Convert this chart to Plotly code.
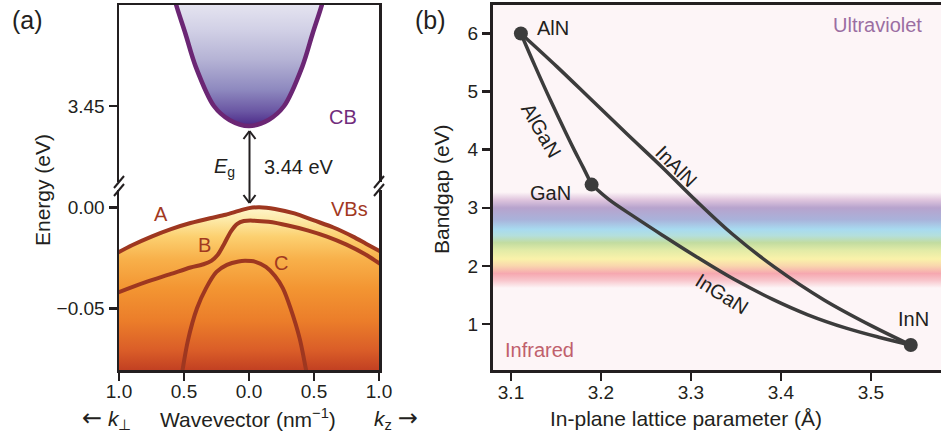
import plotly.graph_objects as go

W, H = 941, 438
def px(x): return x / W
def py(y): return 1 - y / H

FONT = "Liberation Sans, Arial, Helvetica, sans-serif"
INK = "#231f20"
BROWN = "#9e3720"
PURPLE = "#6b2674"

# ---------------- Panel (a) data ----------------
cb_k = [-0.60, -0.56, -0.49, -0.41, -0.27, -0.15, 0.0, 0.15, 0.27, 0.41, 0.49, 0.56, 0.60]
cb_E = [3.510, 3.500, 3.486, 3.4695, 3.450, 3.4431, 3.4401, 3.4431, 3.450, 3.4695, 3.486, 3.500, 3.510]

vbA_k = [-1.02, -0.9, -0.75, -0.6, -0.45, -0.3, -0.18, -0.08, 0.0, 0.08, 0.2, 0.35, 0.5, 0.65, 0.8, 0.9, 1.02]
vbA_E = [-0.0228, -0.0188, -0.0145, -0.0108, -0.0078, -0.0054, -0.0037, -0.0018, -0.0004, 0.0, -0.0008,
         -0.0030, -0.0065, -0.0100, -0.0145, -0.0180, -0.0222]

vbB_k = [-1.02, -0.8, -0.6, -0.45, -0.35, -0.29, -0.24, -0.19, -0.14, -0.09, -0.04, 0.03, 0.15, 0.3,
         0.45, 0.6, 0.75, 0.9, 1.02]
vbB_E = [-0.0425, -0.0372, -0.0330, -0.0298, -0.0282, -0.0265, -0.0235, -0.0180, -0.0120, -0.0082,
         -0.0068, -0.0066, -0.0072, -0.0090, -0.0114, -0.0145, -0.0185, -0.0235, -0.0285]

vbC_k = [-0.53, -0.47, -0.40, -0.33, -0.25, -0.17, -0.08, -0.03, 0.05, 0.13, 0.2, 0.26, 0.32, 0.39, 0.46]
vbC_E = [-0.088, -0.066, -0.050, -0.040, -0.032, -0.0285, -0.0268, -0.0265, -0.0270, -0.0295, -0.034,
         -0.040, -0.050, -0.065, -0.088]

k_ticks = [-1.0, -0.5, 0.0, 0.5, 1.0]
k_ticktext = ["1.0", "0.5", "0.0", "0.5", "1.0"]
e_top_ticks = [3.45]
e_top_text = ["3.45"]
e_bot_ticks = [0.0, -0.05]
e_bot_text = ["0.00", "\u22120.05"]
gap_label = "3.44 eV"

# ---------------- Panel (b) data ----------------
bin_names = ["AlN", "GaN", "InN"]
bin_a = [3.111, 3.1896, 3.5444]
bin_E = [6.0, 3.40, 0.64]

algan_a = [3.111, 3.1270, 3.1439, 3.1616, 3.1708, 3.1801, 3.1896]
algan_E = [6.0, 5.43, 4.85, 4.27, 3.98, 3.70, 3.40]

inaln_a = [3.111, 3.151, 3.190, 3.229, 3.268, 3.306, 3.346, 3.393, 3.448, 3.502, 3.5444]
inaln_E = [6.0, 5.43, 4.85, 4.27, 3.70, 3.12, 2.55, 1.98, 1.415, 0.96, 0.64]

ingan_a = [3.1896, 3.209, 3.2376, 3.2683, 3.307, 3.348, 3.391, 3.43, 3.4726, 3.51, 3.5444]
ingan_E = [3.40, 3.14, 2.84, 2.53, 2.15, 1.77, 1.425, 1.16, 0.93, 0.77, 0.64]

a_ticks = [3.1, 3.2, 3.3, 3.4, 3.5]
a_ticktext = ["3.1", "3.2", "3.3", "3.4", "3.5"]
eg_ticks = [1, 2, 3, 4, 5, 6]

spec_E = [0.21, 1.62, 1.75, 1.87, 2.00, 2.12, 2.27, 2.40, 2.52, 2.63, 2.80, 3.00, 3.14, 3.27, 6.49]
spec_colors = ["#fdf5f7", "#fdf5f7", "#f8c6cc", "#f6a8b0", "#f9d6ad", "#faf2aa", "#e2eba7", "#c2dca0",
               "#b4dfdc", "#a8dbf0", "#a9b2da", "#b7a3cd", "#e0c6de", "#fdf5f7", "#fdf5f7"]

# axis ranges / domains
XA_DOM = [px(119), px(379)]
YA_TOP_DOM = [py(182), py(5)]
YA_BOT_DOM = [py(370), py(190)]
XB_DOM = [px(493), 1.0]
YB_DOM = [py(370), py(5)]
E_TOP_RANGE = [3.41238, 3.50]
E_BOT_RANGE = [-0.08054, 0.00856]
A_RANGE = [3.08, 3.578]
EG_RANGE = [0.21, 6.49]

fig = go.Figure()

# VB filled region (gradient)
fig.add_trace(go.Scatter(
    x=vbA_k + [1.02, -1.02], y=vbA_E + [-0.1, -0.1], xaxis="x", yaxis="y",
    mode="lines", line=dict(width=0), fill="toself",
    fillgradient=dict(type="vertical", start=E_BOT_RANGE[0], stop=0.0,
                      colorscale=[[0.0, "#c24022"], [0.12, "#da5d28"], [0.3, "#eb7d2a"],
                                  [0.5, "#f39532"], [0.68, "#f8b04a"], [0.82, "#fcd070"],
                                  [0.92, "#fde9a6"], [1.0, "#fff6cc"]]),
    hoverinfo="skip", showlegend=False))

for kk, ee in [(vbC_k, vbC_E), (vbB_k, vbB_E), (vbA_k, vbA_E)]:
    fig.add_trace(go.Scatter(x=kk, y=ee, xaxis="x", yaxis="y", mode="lines",
                             line=dict(color=BROWN, width=4, shape="spline", smoothing=0.8),
                             hoverinfo="skip", showlegend=False))

# CB
fig.add_trace(go.Scatter(
    x=cb_k, y=cb_E, xaxis="x2", yaxis="y2", mode="lines",
    line=dict(color=PURPLE, width=4.5, shape="spline", smoothing=0.9), fill="toself",
    fillgradient=dict(type="vertical", start=3.4401, stop=3.50,
                      colorscale=[[0.0, "#4b2887"], [0.12, "#6a56a3"], [0.3, "#8e89bf"],
                                  [0.55, "#b5b3d5"], [0.8, "#d2d1e6"], [1.0, "#e4e3f0"]]),
    hoverinfo="skip", showlegend=False))

# Panel (b) background spectrum
lo, hi = spec_E[0], spec_E[-1]
fig.add_trace(go.Scatter(
    x=[3.0, 3.7, 3.7, 3.0], y=[lo, lo, hi, hi], xaxis="x3", yaxis="y3", mode="lines",
    line=dict(width=0), fill="toself",
    fillgradient=dict(type="vertical", start=lo, stop=hi,
                      colorscale=[[(e - lo) / (hi - lo), c] for e, c in zip(spec_E, spec_colors)]),
    hoverinfo="skip", showlegend=False))

LINE_B = "#3c3c3c"
for aa, ee in [(inaln_a, inaln_E), (ingan_a, ingan_E), (algan_a, algan_E)]:
    fig.add_trace(go.Scatter(x=aa, y=ee, xaxis="x3", yaxis="y3", mode="lines",
                             line=dict(color=LINE_B, width=3.5, shape="spline", smoothing=1.0),
                             hoverinfo="skip", showlegend=False))
fig.add_trace(go.Scatter(x=bin_a, y=bin_E, xaxis="x3", yaxis="y3", mode="markers",
                         marker=dict(color=LINE_B, size=14), hoverinfo="skip", showlegend=False))

tickfont = dict(family=FONT, size=19, color=INK)
common = dict(showgrid=False, zeroline=False, showline=True, linecolor=INK, tickcolor=INK,
              ticks="outside", tickfont=tickfont, automargin=False)

fig.update_layout(
    width=W, height=H, margin=dict(l=0, r=0, t=0, b=0, autoexpand=False),
    paper_bgcolor="white", plot_bgcolor="white", showlegend=False,
    font=dict(family=FONT, color=INK),
    xaxis=dict(domain=XA_DOM, range=[-1, 1], anchor="y", tickvals=k_ticks, ticktext=k_ticktext,
               linewidth=2.5, ticklen=8, tickwidth=2.5, ticklabelstandoff=-5, **common),
    yaxis=dict(domain=YA_BOT_DOM, range=E_BOT_RANGE, anchor="x", tickvals=e_bot_ticks,
               ticktext=e_bot_text, mirror=True, linewidth=2.5, ticklen=8, tickwidth=2.5, **common),
    xaxis2=dict(domain=XA_DOM, range=[-1, 1], anchor="y2", side="top", showticklabels=False,
                showgrid=False, zeroline=False, showline=True, linecolor=INK, linewidth=2.5, ticks="",
                automargin=False),
    yaxis2=dict(domain=YA_TOP_DOM, range=E_TOP_RANGE, anchor="x2", tickvals=e_top_ticks,
                ticktext=e_top_text, mirror=True, linewidth=2.5, ticklen=8, tickwidth=2.5, **common),
    xaxis3=dict(domain=XB_DOM, range=A_RANGE, anchor="y3", tickvals=a_ticks, ticktext=a_ticktext,
                mirror=True, linewidth=3, ticklen=8, tickwidth=2.5, ticklabelstandoff=-5, **common),
    yaxis3=dict(domain=YB_DOM, range=EG_RANGE, anchor="x3", tickvals=eg_ticks,
                linewidth=3, ticklen=8, tickwidth=2.5, **common),
)

# ---------- shapes: axis breaks and Eg arrow ----------
shapes = []
for X in (119, 379):
    for dy in (0, 8):
        shapes.append(dict(type="line", xref="paper", yref="paper",
                           x0=px(X - 5), y0=py(188 + dy), x1=px(X + 5), y1=py(176 + dy),
                           line=dict(color=INK, width=2)))
AX = 249.5
top_tip, bot_tip = 131, 203
arrow_line = dict(color=INK, width=2)
shapes.append(dict(type="line", xref="paper", yref="paper", x0=px(AX), y0=py(top_tip),
                   x1=px(AX), y1=py(bot_tip), line=arrow_line))
for tip, sgn in ((top_tip, 1), (bot_tip, -1)):
    for dx in (-6, 6):
        shapes.append(dict(type="line", xref="paper", yref="paper", x0=px(AX), y0=py(tip),
                           x1=px(AX + dx), y1=py(tip + sgn * 8), line=arrow_line))
fig.update_layout(shapes=shapes)

# ---------- annotations ----------
def ann(text, x, y, size=20, color=INK, angle=0, xanchor="center", yanchor="middle"):
    return dict(text=text, x=px(x), y=py(y), xref="paper", yref="paper", showarrow=False,
                xanchor=xanchor, yanchor=yanchor, textangle=angle,
                font=dict(family=FONT, size=size, color=color))

ARROW = '<span style="font-family:DejaVu Sans;font-size:24px">{}</span>'
anns = [
    ann("(a)", 27, 20, size=25),
    ann("(b)", 430, 20, size=25),
    ann("CB", 343, 117, color="#712c7c"),
    ann("VBs", 349, 209, color="#a2391f"),
    ann("A", 161, 214, color="#a2391f"),
    ann("B", 204, 245, color="#a2391f"),
    ann("C", 281, 263, color="#a2391f"),
    ann("<i>E</i><sub>g</sub>", 237, 167, xanchor="right"),
    ann(gap_label, 262, 167, xanchor="left"),
    ann("Energy (eV)", 42, 190, size=21, angle=-90),
    ann("Bandgap (eV)", 442, 189, size=21, angle=-90),
    ann(ARROW.format("\u2190") + " <i>k</i><sub>\u22a5</sub>", 80, 418, size=21, xanchor="left"),
    ann("Wavevector (nm<sup>\u22121</sup>)", 248, 418, size=21),
    ann("<i>k</i><sub>z</sub> " + ARROW.format("\u2192"), 372, 418, size=21, xanchor="left"),
    ann("In-plane lattice parameter (\u00c5)", 686, 418, size=21),
    ann("Ultraviolet", 877, 25, color="#9b6ea2"),
    ann("Infrared", 539, 350, color="#c0606c"),
    ann("AlGaN", 541, 130, angle=60),
    ann("InAlN", 676, 166, angle=45),
    ann("InGaN", 722, 294, angle=32),
    ann(bin_names[0], 553, 28),
    ann(bin_names[1], 550, 193),
    ann(bin_names[2], 913, 319),
]
fig.update_layout(annotations=anns)

fig.write_html("out.html", config={"displayModeBar": False, "staticPlot": True},
               post_script="document.body.style.margin='0px';document.body.style.overflow='hidden';")
